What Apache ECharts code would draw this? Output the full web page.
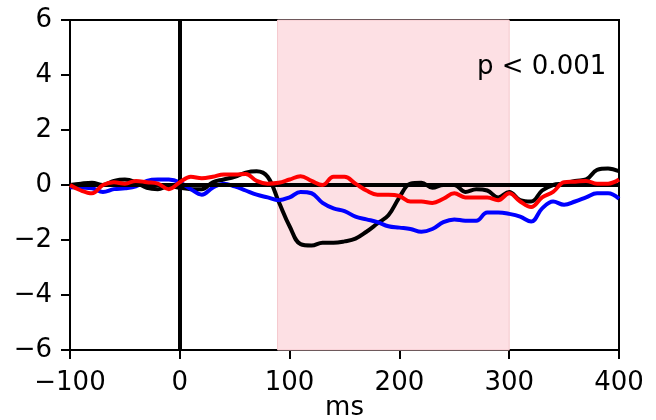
<!DOCTYPE html>
<html>
<head>
<meta charset="utf-8">
<script src="https://cdn.jsdelivr.net/npm/echarts@6/dist/echarts.min.js"></script>
<style>html,body{margin:0;padding:0;background:#fff}#c{width:656px;height:420px}</style>
</head>
<body>
<div id="c"></div>
<script>
var times = [-100,-90,-80,-70,-60,-50,-40,-30,-20,-10,0,10,20,30,40,50,60,70,80,90,100,110,120,130,140,150,160,170,180,190,200,210,220,230,240,250,260,270,280,290,300,310,320,330,340,350,360,370,380,390,400];
var blackVals = [0,0.05,0.08,0.0,0.15,0.2,0.1,-0.1,-0.15,-0.05,-0.1,-0.15,-0.15,0.1,0.2,0.3,0.45,0.5,0.3,-0.6,-1.5,-2.15,-2.2,-2.1,-2.1,-2.05,-1.95,-1.7,-1.4,-1.1,-0.45,0.05,0.08,-0.1,0.0,0.0,-0.25,-0.15,-0.2,-0.45,-0.25,-0.55,-0.6,-0.2,0.0,0.05,0.15,0.2,0.55,0.6,0.5];
var redVals = [0,-0.2,-0.3,0.0,0.1,0.05,0.15,0.1,0.05,-0.15,0.1,0.3,0.25,0.3,0.38,0.38,0.4,0.15,0.05,0.08,0.2,0.32,0.15,0.0,0.3,0.3,0.05,-0.2,-0.35,-0.35,-0.4,-0.6,-0.6,-0.65,-0.5,-0.3,-0.45,-0.45,-0.45,-0.55,-0.3,-0.6,-0.8,-0.45,-0.25,0.1,0.12,0.15,0.05,0.05,0.2];
var blueVals = [-0.08,-0.1,-0.12,-0.25,-0.15,-0.12,-0.05,0.15,0.2,0.2,0.1,-0.15,-0.35,-0.1,0.05,-0.05,-0.2,-0.35,-0.45,-0.55,-0.45,-0.25,-0.3,-0.65,-0.85,-0.95,-1.15,-1.25,-1.35,-1.5,-1.55,-1.6,-1.7,-1.6,-1.35,-1.25,-1.3,-1.3,-1.0,-1.0,-1.05,-1.15,-1.33,-0.85,-0.6,-0.72,-0.6,-0.45,-0.3,-0.3,-0.5];
var shadeRange = [89, 300];
var xTicks = [-100, 0, 100, 200, 300, 400];
var yTicks = [-6, -4, -2, 0, 2, 4, 6];
var annotation = 'p \u003c 0.001';
var xLabel = 'ms';

function pairs(v){ return times.map(function(t,i){ return [t, v[i]]; }); }
var font = 'DejaVu Sans';
var fmt = function(v){ return String(v).replace('-', '\u2212'); };

var chart = echarts.init(document.getElementById('c'), null, {renderer:'canvas'});
chart.setOption({
  animation: false,
  backgroundColor: '#fff',
  title: {
    text: annotation, left: 477, top: 54, padding: 0,
    textStyle: {fontFamily: font, fontSize: 26, fontWeight: 'normal', color: '#000'}
  },
  grid: {left: 70, right: 37, top: 20, bottom: 70, containLabel: false, outerBoundsMode: 'none',
    show: true, borderColor: '#000', borderWidth: 2, backgroundColor: 'transparent'},
  xAxis: {
    type: 'value', min: xTicks[0], max: xTicks[xTicks.length-1], interval: 100,
    name: xLabel, nameLocation: 'middle', nameGap: 45, nameMoveOverlap: false,
    nameTextStyle: {fontFamily: font, fontSize: 26, color: '#000'},
    axisLine: {onZero: false, lineStyle: {color: '#000', width: 2}},
    axisTick: {show: true, length: 9, lineStyle: {color: '#000', width: 2}},
    axisLabel: {formatter: fmt, fontFamily: font, fontSize: 26, color: '#000', margin: 20},
    splitLine: {show: false}
  },
  yAxis: {
    type: 'value', min: yTicks[0], max: yTicks[yTicks.length-1], interval: 2,
    axisLine: {onZero: false, lineStyle: {color: '#000', width: 2}},
    axisTick: {show: true, length: 9, lineStyle: {color: '#000', width: 2}},
    axisLabel: {formatter: fmt, fontFamily: font, fontSize: 26, color: '#000', margin: 18},
    splitLine: {show: false}
  },
  series: [
    {
      type: 'line', data: [], silent: true,
      markArea: {silent: true, itemStyle: {color: 'rgba(253,224,228,1)', borderColor: 'rgba(244,196,202,0.9)', borderWidth: 1},
        data: [[{xAxis: shadeRange[0]}, {xAxis: shadeRange[1]}]]},
      z: 1
    },
    {type: 'line', data: pairs(blackVals), smooth: 0.4, symbol: 'none', lineStyle: {color: '#000', width: 4}, z: 3},
    {type: 'line', data: pairs(blueVals), smooth: 0.4, symbol: 'none', lineStyle: {color: '#0000ff', width: 4}, z: 4},
    {type: 'line', data: pairs(redVals), smooth: 0.4, symbol: 'none', lineStyle: {color: '#ff0000', width: 4}, z: 5},
    {
      type: 'line', data: [], silent: true, z: 6,
      markLine: {silent: true, symbol: 'none', label: {show: false},
        lineStyle: {color: '#000', width: 4, type: 'solid'},
        data: [{xAxis: 0}, {yAxis: 0}]}
    }
  ]
});
</script>
</body>
</html>
